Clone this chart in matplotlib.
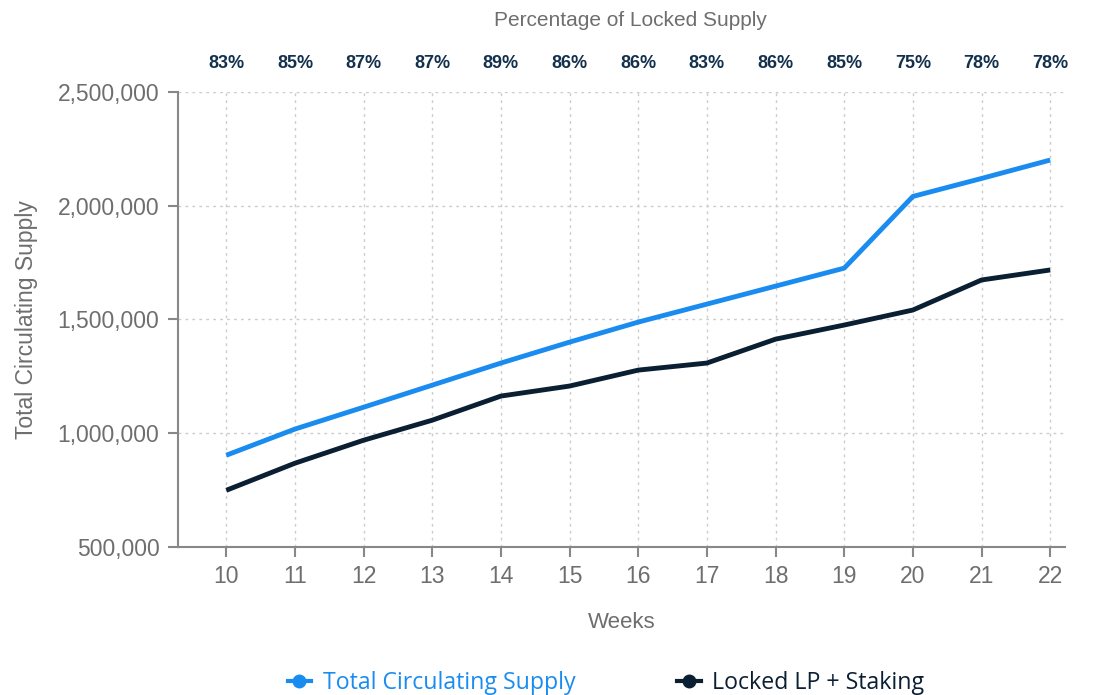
import matplotlib.pyplot as plt
from matplotlib.ticker import FuncFormatter
from matplotlib.lines import Line2D

weeks = [10, 11, 12, 13, 14, 15, 16, 17, 18, 19, 20, 21, 22]
total_supply = [903000, 1018000, 1114000, 1211000, 1308000, 1400000, 1488000,
                1567000, 1646000, 1725000, 2040000, 2119000, 2200000]
locked = [749000, 868000, 969000, 1057000, 1163000, 1207000, 1277000,
          1308000, 1413000, 1475000, 1541000, 1673000, 1717000]
pct_labels = ["83%", "85%", "87%", "87%", "89%", "86%", "86%",
              "83%", "86%", "85%", "75%", "78%", "78%"]

blue = "#1a8cf0"
navy = "#0b1f33"
grey = "#6e6e6e"

plt.rcParams['font.family'] = ['Liberation Sans', 'DejaVu Sans']

fig = plt.figure(figsize=(10.96, 6.95), dpi=100)
ax = fig.add_axes([0.162, 0.213, 0.81, 0.655])

ax.plot(weeks, total_supply, color=blue, lw=3.5, solid_capstyle='butt')
ax.plot(weeks, locked, color=navy, lw=3.5, solid_capstyle='butt')

ax.set_xlim(9.29, 22.22)
ax.set_ylim(500000, 2500000)
ax.set_xticks(weeks)
ax.set_yticks([500000, 1000000, 1500000, 2000000, 2500000])
ax.yaxis.set_major_formatter(FuncFormatter(lambda v, p: "{:,.0f}".format(v)))

ax.grid(True, color="#cccccc", linestyle=(0, (2, 3)), lw=1)
for s in ["top", "right"]:
    ax.spines[s].set_visible(False)
for s in ["left", "bottom"]:
    ax.spines[s].set_color("#888888")
    ax.spines[s].set_linewidth(1.5)
ax.tick_params(colors="#888888", labelcolor=grey, labelsize=16.5, length=7, width=1.5, pad=6)

ax.set_xlabel("Weeks", fontsize=16, color=grey, labelpad=17)
ax.set_ylabel("Total Circulating Supply", fontsize=16.5, color=grey, labelpad=14)

for w, t in zip(weeks, pct_labels):
    ax.text(w, 1.062, t, transform=ax.get_xaxis_transform(), ha="center", va="center",
            fontsize=13, fontweight="bold", color="#13304d")
fig.text(0.575, 0.97, "Percentage of Locked Supply", ha="center", va="center",
         fontsize=15, color=grey)

handles = [Line2D([], [], color=blue, lw=3, marker="o", ms=9),
           Line2D([], [], color=navy, lw=3, marker="o", ms=9)]
leg = fig.legend(handles, ["Total Circulating Supply", "Locked LP + Staking"],
                 loc="center", bbox_to_anchor=(0.553, 0.017), ncol=2, frameon=False,
                 handlelength=1.0, columnspacing=4.4, handletextpad=0.5,
                 prop={'family': ['Open Sans', 'DejaVu Sans'], 'size': 16.7})
for txt, c in zip(leg.get_texts(), [blue, navy]):
    txt.set_color(c)

plt.savefig("out.png", dpi=100)
plt.close()
